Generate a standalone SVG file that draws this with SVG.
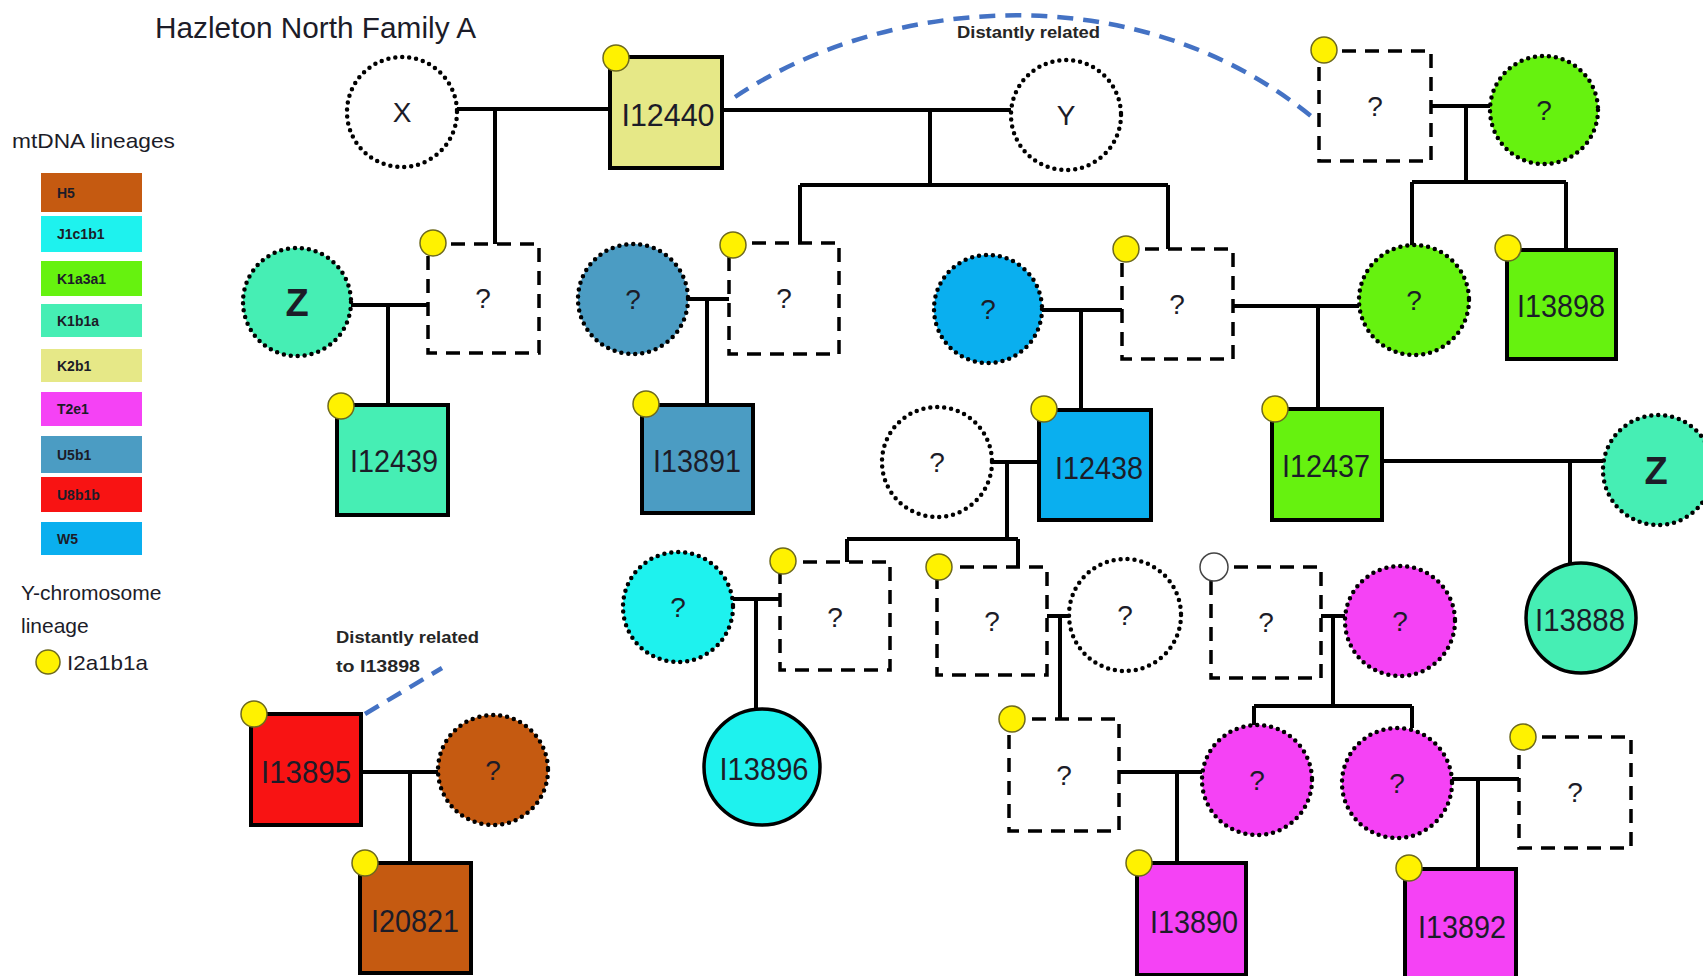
<svg xmlns="http://www.w3.org/2000/svg" width="1703" height="976" viewBox="0 0 1703 976">
<style>
.ln{stroke:#000;stroke-width:4;fill:none}
.rel{stroke:#4472C4;stroke-width:4.5;fill:none;stroke-dasharray:16 10}
.sq{stroke:#000;stroke-width:4}
.dsq{fill:#fff;stroke:#000;stroke-width:3.5;stroke-dasharray:14 9}
.dc{stroke:#000;stroke-width:4.5;stroke-dasharray:0 7;stroke-linecap:round}
.sc{stroke:#000;stroke-width:3.5}
.yc{fill:#FFF200;stroke:#6e6a1e;stroke-width:1.5}
.hc{fill:#fff;stroke:#444;stroke-width:1.5}
text{font-family:"Liberation Sans",Arial,sans-serif;fill:#1c1c28}
.lbl{font-size:32px;text-anchor:middle}
.q{font-size:28px;text-anchor:middle}
.xy{font-size:28px;text-anchor:middle}
.z{font-size:38px;font-weight:bold;text-anchor:middle}
.leg{font-size:14px;font-weight:bold}
.note{font-size:17px;font-weight:bold;fill:#262626}
.h5{fill:#C55A11}.j1{fill:#1EF2EE}.k1a{fill:#66F20F}.k1b{fill:#46EEB4}.k2{fill:#E6E887}
.t2{fill:#F542F5}.u5{fill:#4B9CC3}.u8{fill:#F81313}.w5{fill:#0AAFEF}.wh{fill:#fff}
</style>
<rect width="1703" height="976" fill="#fff"/>

<g id="title">
<text x="155" y="38" font-size="29" textLength="321" lengthAdjust="spacingAndGlyphs">Hazleton North Family A</text>
</g>

<g id="legend">
<text x="12" y="148" font-size="21" textLength="163" lengthAdjust="spacingAndGlyphs">mtDNA lineages</text>
<rect x="41" y="173" width="101" height="39" class="h5"/><text x="57" y="198" class="leg">H5</text>
<rect x="41" y="216" width="101" height="36" class="j1"/><text x="57" y="239" class="leg">J1c1b1</text>
<rect x="41" y="261" width="101" height="35" class="k1a"/><text x="57" y="284" class="leg">K1a3a1</text>
<rect x="41" y="304" width="101" height="33" class="k1b"/><text x="57" y="326" class="leg">K1b1a</text>
<rect x="41" y="349" width="101" height="33" class="k2"/><text x="57" y="371" class="leg">K2b1</text>
<rect x="41" y="392" width="101" height="34" class="t2"/><text x="57" y="414" class="leg">T2e1</text>
<rect x="41" y="436" width="101" height="37" class="u5"/><text x="57" y="460" class="leg">U5b1</text>
<rect x="41" y="477" width="101" height="35" class="u8"/><text x="57" y="500" class="leg">U8b1b</text>
<rect x="41" y="522" width="101" height="33" class="w5"/><text x="57" y="544" class="leg">W5</text>
<text x="21" y="600" font-size="21">Y-chromosome</text>
<text x="21" y="633" font-size="21">lineage</text>
<circle cx="48" cy="662" r="12" class="yc"/>
<text x="67" y="670" font-size="21" textLength="81" lengthAdjust="spacingAndGlyphs">I2a1b1a</text>
</g>

<g id="connectors">
<path class="ln" d="M457,109H610M495,109V244"/>
<path class="ln" d="M722,110H1011M930,110V185M800,185H1168M800,185V243M1168,185V249"/>
<path class="ln" d="M1431,106H1490M1466,106V182M1412,182H1566M1412,182V246M1566,182V250"/>
<path class="ln" d="M351,305H428M388,305V405"/>
<path class="ln" d="M688,299H729M707,299V405"/>
<path class="ln" d="M1042,310H1122M1081,310V410"/>
<path class="ln" d="M1233,306H1359M1318,306V409"/>
<path class="ln" d="M992,462H1039M1007,462V539M847,539H1018M847,539V562M1018,539V567"/>
<path class="ln" d="M1382,461H1603M1570,461V564"/>
<path class="ln" d="M733,599H780M756,599V709"/>
<path class="ln" d="M1047,616H1069M1060,616V719"/>
<path class="ln" d="M1321,616H1345M1333,616V706M1254,706H1412M1254,706V725M1412,706V728"/>
<path class="ln" d="M1119,772H1202M1177,772V863"/>
<path class="ln" d="M1452,779H1519M1478,779V869"/>
<path class="ln" d="M361,772H438M410,772V863"/>
<path class="rel" d="M735,97C880,0 1130,-30 1311,116"/>
<path class="rel" d="M365,714L442,668"/>
<text x="957" y="38" class="note" textLength="143" lengthAdjust="spacingAndGlyphs">Distantly related</text>
<text x="336" y="643" class="note" textLength="143" lengthAdjust="spacingAndGlyphs">Distantly related</text>
<text x="336" y="672" class="note" textLength="84" lengthAdjust="spacingAndGlyphs">to I13898</text>
</g>

<g id="n_X"><circle cx="402" cy="112" r="55" class="wh dc"/><text x="402" y="122" class="xy">X</text></g>
<g id="n_I12440"><rect x="610" y="57" width="112" height="111" class="k2 sq"/><circle cx="616" cy="58" r="13" class="yc"/><text x="668" y="126" class="lbl" textLength="93" lengthAdjust="spacingAndGlyphs">I12440</text></g>
<g id="n_Y"><circle cx="1066" cy="115" r="55" class="wh dc"/><text x="1066" y="125" class="xy">Y</text></g>
<g id="n_q1"><rect x="1319" y="51" width="112" height="110" class="dsq"/><circle cx="1324" cy="50" r="13" class="yc"/><text x="1375" y="116" class="q">?</text></g>
<g id="n_q2"><circle cx="1544" cy="110" r="54" class="k1a dc"/><text x="1544" y="120" class="q">?</text></g>

<g id="n_Z1"><circle cx="297" cy="302" r="54" class="k1b dc"/><text x="297" y="316" class="z">Z</text></g>
<g id="n_q3"><rect x="428" y="244" width="111" height="109" class="dsq"/><circle cx="433" cy="243" r="13" class="yc"/><text x="483" y="308" class="q">?</text></g>
<g id="n_I12439"><rect x="337" y="405" width="111" height="110" class="k1b sq"/><circle cx="341" cy="406" r="13" class="yc"/><text x="394" y="472" class="lbl" textLength="88" lengthAdjust="spacingAndGlyphs">I12439</text></g>
<g id="n_q4"><circle cx="633" cy="299" r="55" class="u5 dc"/><text x="633" y="309" class="q">?</text></g>
<g id="n_q5"><rect x="729" y="243" width="110" height="111" class="dsq"/><circle cx="733" cy="245" r="13" class="yc"/><text x="784" y="308" class="q">?</text></g>
<g id="n_I13891"><rect x="642" y="405" width="111" height="108" class="u5 sq"/><circle cx="646" cy="404" r="13" class="yc"/><text x="697" y="472" class="lbl" textLength="88" lengthAdjust="spacingAndGlyphs">I13891</text></g>
<g id="n_q6"><circle cx="988" cy="309" r="54" class="w5 dc"/><text x="988" y="319" class="q">?</text></g>
<g id="n_q7"><rect x="1122" y="249" width="111" height="110" class="dsq"/><circle cx="1126" cy="249" r="13" class="yc"/><text x="1177" y="314" class="q">?</text></g>
<g id="n_q8"><circle cx="1414" cy="300" r="55" class="k1a dc"/><text x="1414" y="310" class="q">?</text></g>
<g id="n_I13898"><rect x="1507" y="250" width="109" height="109" class="k1a sq"/><circle cx="1508" cy="248" r="13" class="yc"/><text x="1561" y="317" class="lbl" textLength="88" lengthAdjust="spacingAndGlyphs">I13898</text></g>

<g id="n_q9"><circle cx="937" cy="462" r="55" class="wh dc"/><text x="937" y="472" class="q">?</text></g>
<g id="n_I12438"><rect x="1039" y="410" width="112" height="110" class="w5 sq"/><circle cx="1044" cy="409" r="13" class="yc"/><text x="1099" y="479" class="lbl" textLength="88" lengthAdjust="spacingAndGlyphs">I12438</text></g>
<g id="n_I12437"><rect x="1272" y="409" width="110" height="111" class="k1a sq"/><circle cx="1275" cy="409" r="13" class="yc"/><text x="1326" y="477" class="lbl" textLength="88" lengthAdjust="spacingAndGlyphs">I12437</text></g>
<g id="n_Z2"><circle cx="1658" cy="470" r="55" class="k1b dc"/><text x="1656" y="484" class="z">Z</text></g>
<g id="n_I13888"><circle cx="1581" cy="618" r="55" class="k1b sc"/><text x="1580" y="631" class="lbl" textLength="90" lengthAdjust="spacingAndGlyphs">I13888</text></g>

<g id="n_q10"><circle cx="678" cy="607" r="55" class="j1 dc"/><text x="678" y="617" class="q">?</text></g>
<g id="n_q11"><rect x="780" y="562" width="110" height="108" class="dsq"/><circle cx="783" cy="561" r="13" class="yc"/><text x="835" y="627" class="q">?</text></g>
<g id="n_I13896"><circle cx="762" cy="767" r="58" class="j1 sc"/><text x="764" y="780" class="lbl" textLength="89" lengthAdjust="spacingAndGlyphs">I13896</text></g>
<g id="n_q12"><rect x="937" y="567" width="110" height="108" class="dsq"/><circle cx="939" cy="567" r="13" class="yc"/><text x="992" y="631" class="q">?</text></g>
<g id="n_q13"><circle cx="1125" cy="615" r="56" class="wh dc"/><text x="1125" y="625" class="q">?</text></g>
<g id="n_q14"><rect x="1211" y="567" width="110" height="111" class="dsq"/><circle cx="1214" cy="567" r="14" class="hc"/><text x="1266" y="632" class="q">?</text></g>
<g id="n_q15"><circle cx="1400" cy="621" r="55" class="t2 dc"/><text x="1400" y="631" class="q">?</text></g>

<g id="n_q16"><rect x="1009" y="719" width="110" height="112" class="dsq"/><circle cx="1012" cy="719" r="13" class="yc"/><text x="1064" y="785" class="q">?</text></g>
<g id="n_q17"><circle cx="1257" cy="780" r="55" class="t2 dc"/><text x="1257" y="790" class="q">?</text></g>
<g id="n_q18"><circle cx="1397" cy="783" r="55" class="t2 dc"/><text x="1397" y="793" class="q">?</text></g>
<g id="n_q19"><rect x="1519" y="737" width="112" height="111" class="dsq"/><circle cx="1523" cy="737" r="13" class="yc"/><text x="1575" y="802" class="q">?</text></g>
<g id="n_I13890"><rect x="1137" y="863" width="109" height="112" class="t2 sq"/><circle cx="1139" cy="863" r="13" class="yc"/><text x="1194" y="933" class="lbl" textLength="88" lengthAdjust="spacingAndGlyphs">I13890</text></g>
<g id="n_I13892"><rect x="1405" y="869" width="111" height="110" class="t2 sq"/><circle cx="1409" cy="868" r="13" class="yc"/><text x="1462" y="938" class="lbl" textLength="88" lengthAdjust="spacingAndGlyphs">I13892</text></g>

<g id="n_I13895"><rect x="251" y="714" width="110" height="111" class="u8 sq"/><circle cx="254" cy="714" r="13" class="yc"/><text x="306" y="783" class="lbl" textLength="90" lengthAdjust="spacingAndGlyphs">I13895</text></g>
<g id="n_q20"><circle cx="493" cy="770" r="55" class="h5 dc"/><text x="493" y="780" class="q">?</text></g>
<g id="n_I20821"><rect x="360" y="863" width="111" height="110" class="h5 sq"/><circle cx="365" cy="863" r="13" class="yc"/><text x="415" y="932" class="lbl" textLength="88" lengthAdjust="spacingAndGlyphs">I20821</text></g>
</svg>
